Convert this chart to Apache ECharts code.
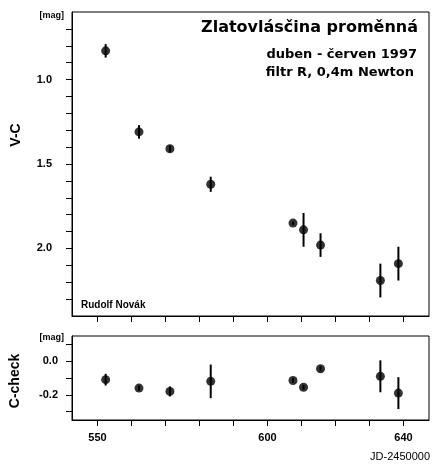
<!DOCTYPE html>
<html>
<head>
<meta charset="utf-8">
<script src="https://cdn.jsdelivr.net/npm/echarts@6/dist/echarts.min.js"></script>
<style>
html, body { margin: 0; padding: 0; background: #fff; }
#chart { width: 432px; height: 464px; }
</style>
</head>
<body>
<div id="chart"></div>
<script>
// nights of observation, JD - 2450000
var jd = [552.4, 562.2, 571.3, 583.3, 607.5, 610.6, 615.6, 633.2, 638.5];

// variable minus comparison star [mag]
var vc = [0.83, 1.31, 1.41, 1.62, 1.85, 1.89, 1.98, 2.19, 2.09];
var vcErr = [0.04, 0.04, 0.02, 0.045, 0.01, 0.1, 0.07, 0.1, 0.1];

// comparison minus check star [mag]
var cCheck = [-0.11, -0.16, -0.18, -0.12, -0.115, -0.155, -0.045, -0.09, -0.19];
var cCheckErr = [0.035, 0.015, 0.03, 0.1, 0.015, 0.015, 0.015, 0.095, 0.095];

// ticks and labels
var xTicks = [550, 560, 570, 580, 590, 600, 610, 620, 630, 640];
var xLabels = [550, 600, 640];
var vcTicks = [0.7, 0.8, 0.9, 1.0, 1.1, 1.2, 1.3, 1.4, 1.5, 1.6, 1.7, 1.8, 1.9, 2.0, 2.1, 2.2, 2.3];
var vcLabels = [1.0, 1.5, 2.0];
var ccTicks = [0.1, 0.0, -0.1, -0.2, -0.3];
var ccLabels = [0.0, -0.2];

var FONT = 'Liberation Sans, Arial, sans-serif';
var WIDE = 'DejaVu Sans, sans-serif'; // heading text is wider than Arial

function pts(xs, ys, es) {
    return xs.map(function (x, i) { return [x, ys[i], es[i]]; });
}

// vertical error bar for each point
function errBar(params, api) {
    var x = api.value(0), y = api.value(1), e = api.value(2);
    var a = api.coord([x, y - e]);
    var b = api.coord([x, y + e]);
    return {
        type: 'line',
        shape: { x1: a[0], y1: a[1], x2: b[0], y2: b[1] },
        style: { stroke: '#000', lineWidth: 2 }
    };
}

var axisLine = { show: true, onZero: false, lineStyle: { color: '#000', width: 1 } };
var tickLbl = { color: '#000', fontFamily: FONT, fontWeight: 'bold', fontSize: 11 };

function xAxis(gridIndex, withLabels) {
    return {
        type: 'value', gridIndex: gridIndex, min: 542.5, max: 647.5, position: 'bottom',
        axisLine: axisLine, splitLine: { show: false },
        axisTick: { show: true, inside: false, length: 6, customValues: xTicks, lineStyle: { color: '#000' } },
        axisLabel: Object.assign({ show: withLabels, customValues: xLabels, margin: 12 }, tickLbl)
    };
}

var chart = echarts.init(document.getElementById('chart'));

chart.setOption({
    animation: false,
    backgroundColor: '#fff',
    grid: [
        { left: 72, right: 3, top: 12, height: 304, show: true, borderColor: '#000', borderWidth: 1 },
        { left: 72, right: 3, top: 336, height: 84, show: true, borderColor: '#000', borderWidth: 1 }
    ],
    xAxis: [xAxis(0, false), xAxis(1, true)],
    yAxis: [
        {
            type: 'value', gridIndex: 0, min: 0.6, max: 2.4, inverse: true,
            axisLine: axisLine, splitLine: { show: false },
            axisTick: { show: true, length: 6, customValues: vcTicks, lineStyle: { color: '#000' } },
            axisLabel: Object.assign({
                customValues: vcLabels, margin: 20,
                formatter: function (v) { return v.toFixed(1); }
            }, tickLbl)
        },
        {
            type: 'value', gridIndex: 1, min: -0.35, max: 0.15,
            axisLine: axisLine, splitLine: { show: false },
            axisTick: { show: true, length: 6, customValues: ccTicks, lineStyle: { color: '#000' } },
            axisLabel: Object.assign({
                customValues: ccLabels, margin: 14,
                formatter: function (v) { return v.toFixed(1); }
            }, tickLbl)
        }
    ],
    series: [
        {
            type: 'custom', xAxisIndex: 0, yAxisIndex: 0,
            data: pts(jd, vc, vcErr), renderItem: errBar, encode: { x: 0, y: 1 }, z: 2
        },
        {
            type: 'scatter', xAxisIndex: 0, yAxisIndex: 0,
            data: pts(jd, vc, vcErr), symbol: 'circle', symbolSize: 9,
            itemStyle: { color: '#000' }, z: 3
        },
        {
            type: 'custom', xAxisIndex: 1, yAxisIndex: 1,
            data: pts(jd, cCheck, cCheckErr), renderItem: errBar, encode: { x: 0, y: 1 }, z: 2
        },
        {
            type: 'scatter', xAxisIndex: 1, yAxisIndex: 1,
            data: pts(jd, cCheck, cCheckErr), symbol: 'circle', symbolSize: 9,
            itemStyle: { color: '#000' }, z: 3
        }
    ],
    graphic: [
        { type: 'text', right: 14, top: 20, style: { text: 'Zlatovlásčina proměnná', fill: '#000', font: 'bold 16px ' + WIDE } },
        { type: 'text', right: 15, top: 48, style: { text: 'duben - červen 1997', fill: '#000', font: 'bold 13px ' + WIDE } },
        { type: 'text', right: 18, top: 66, style: { text: 'filtr R, 0,4m Newton', fill: '#000', font: 'bold 13px ' + WIDE } },
        { type: 'text', left: 81, top: 300, style: { text: 'Rudolf Novák', fill: '#000', font: 'bold 10px ' + FONT } },
        { type: 'text', right: 368, top: 11, style: { text: '[mag]', fill: '#000', font: 'bold 9px ' + FONT } },
        { type: 'text', right: 368, top: 333, style: { text: '[mag]', fill: '#000', font: 'bold 9px ' + FONT } },
        { type: 'text', right: 2, top: 451, style: { text: 'JD-2450000', fill: '#000', font: '11px ' + FONT } },
        {
            type: 'text', x: 16, y: 135, rotation: Math.PI / 2,
            style: { text: 'V-C', fill: '#000', font: 'bold 14px ' + FONT, align: 'center', verticalAlign: 'middle' }
        },
        {
            type: 'text', x: 15, y: 381, rotation: Math.PI / 2,
            style: { text: 'C-check', fill: '#000', font: 'bold 14px ' + FONT, align: 'center', verticalAlign: 'middle' }
        }
    ]
});
</script>
</body>
</html>
